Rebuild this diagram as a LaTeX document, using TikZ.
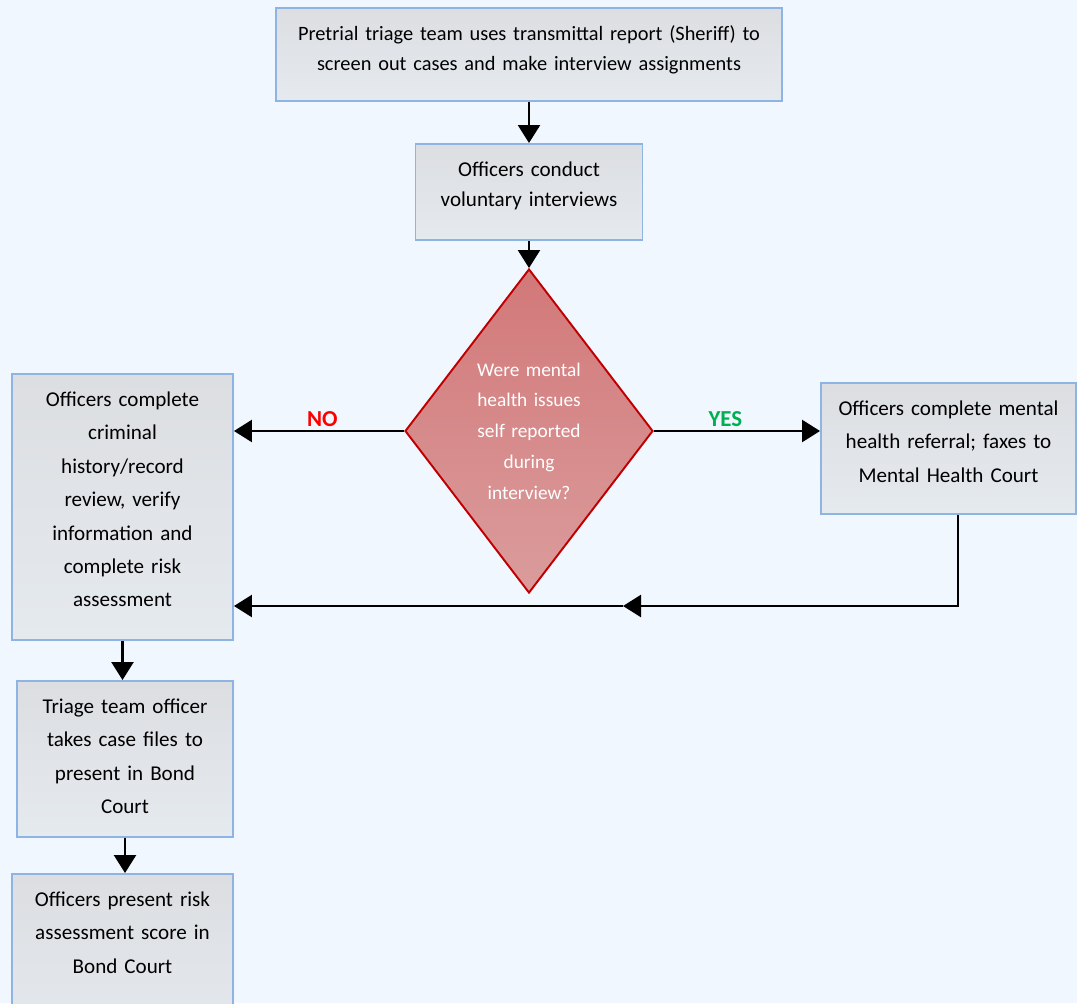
\documentclass[tikz,border=0pt]{standalone}
\usepackage{fontspec}
\setmainfont{Carlito}
\usetikzlibrary{arrows.meta,shapes.geometric}

\definecolor{pagebg}{HTML}{F0F7FE}
\definecolor{boxedge}{HTML}{8EB4E3}
\definecolor{boxtop}{HTML}{DCDEE1}
\definecolor{boxbottom}{HTML}{E5EAEF}
\definecolor{diaedge}{HTML}{C00000}
\definecolor{diatop}{HTML}{D27879}
\definecolor{diabottom}{HTML}{DB9C9C}
\definecolor{nored}{HTML}{FF0000}
\definecolor{yesgreen}{HTML}{00B050}

\begin{document}
\begin{tikzpicture}[->,>={Triangle[length=0.36cm,width=0.44cm]},line width=1.4pt,auto,
	box/.style={draw=boxedge,line width=1.1pt,top color=boxtop,bottom color=boxbottom,align=center,inner xsep=0.1cm,inner ysep=0pt,text height=0.65cm,font=\fontsize{12}{19}\selectfont},
	decision/.style={diamond,draw=diaedge,line width=1.1pt,top color=diatop,bottom color=diabottom,text=white,inner sep=0pt,aspect=0.76,minimum width=4.96cm,minimum height=6.48cm,text width=2.3cm,align=center,font=\fontsize{11}{17.5}\selectfont},
	answer/.style={font=\fontsize{13}{15}\selectfont\bfseries,inner sep=2pt}]

	\useasboundingbox (0,0) rectangle (21.54,-20.06);
	\fill[-,pagebg] (0,0) rectangle (21.54,-20.06);
	\clip (0,0) rectangle (21.54,-20.06);

	\node (triage)	at (10.58,-0.14) [box,anchor=north,text width=9.92cm,text depth=1.21cm,font=\fontsize{11.6}{17}\selectfont] {Pretrial triage team uses transmittal report (Sheriff) to\\screen out cases and make interview assignments};
	\node (interview)	at (10.58,-2.86) [box,anchor=north,text width=4.34cm,text depth=1.27cm,font=\fontsize{12}{17}\selectfont] {Officers conduct\\voluntary interviews};
	\node (mh)	at (10.58,-8.62) [decision] {Were mental\\health issues\\self reported\\during\\interview?};
	\node (review)	at (2.45,-7.46) [box,anchor=north,text width=4.22cm,text depth=4.67cm] {Officers complete\\criminal\\history/record\\review, verify\\information and\\complete risk\\assessment};
	\node (referral)	at (18.97,-7.64) [box,anchor=north,text width=4.9cm,text depth=1.97cm] {Officers complete mental\\health referral; faxes to\\Mental Health Court};
	\node (files)	at (2.5,-13.6) [box,anchor=north,text width=4.12cm,text depth=2.47cm] {Triage team officer\\takes case files to\\present in Bond\\Court};
	\node (score)	at (2.45,-17.46) [box,anchor=north,text width=4.22cm,text depth=2.9cm] {Officers present risk\\assessment score in\\Bond Court};
	\coordinate (back) at (12.46,-12.12);

	\draw (triage) to (interview);
	\draw (interview) to (mh);
	\draw (mh.west) to node [pos=0.48,swap,answer,text=nored] {NO} (mh.west -| review.east);
	\draw (mh.east) to node [pos=0.43,answer,text=yesgreen] {YES} (mh.east -| referral.west);
	\draw ([xshift=0.19cm]referral.south) |- (back);
	\draw (back) to (back -| review.east);
	\draw (review.south) to (review.south |- files.north);
	\draw (files.south) to (files.south |- score.north);

\end{tikzpicture}
\end{document}
